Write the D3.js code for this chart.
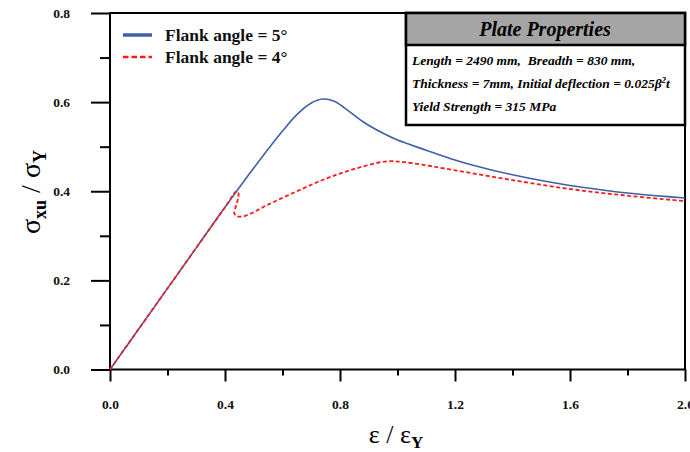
<!DOCTYPE html>
<html>
<head>
<meta charset="utf-8">
<script src="https://cdn.jsdelivr.net/npm/d3@7"></script>
<style>
  body { margin: 0; background: #fff; }
  text { font-family: "Liberation Serif", "DejaVu Serif", serif; }
</style>
</head>
<body>
<div id="container"></div>
<script>
// strain ratio / stress ratio
var blueX = [0, 0.1, 0.2, 0.3, 0.4, 0.5, 0.6, 0.65, 0.7, 0.74, 0.78, 0.82, 0.88, 0.95, 1.0, 1.1, 1.2, 1.3, 1.4, 1.5, 1.6, 1.7, 1.8, 1.9, 2.0];
var blueY = [0, 0.091, 0.182, 0.273, 0.364, 0.452, 0.535, 0.572, 0.598, 0.607, 0.602, 0.585, 0.556, 0.530, 0.515, 0.492, 0.470, 0.452, 0.437, 0.424, 0.413, 0.404, 0.396, 0.390, 0.385];

var redX = [0, 0.2, 0.4, 0.44, 0.447, 0.44, 0.432, 0.44, 0.47, 0.55, 0.65, 0.75, 0.85, 0.963, 1.05, 1.2, 1.4, 1.6, 1.8, 2.0];
var redY = [0, 0.182, 0.364, 0.40, 0.395, 0.37, 0.352, 0.344, 0.345, 0.37, 0.40, 0.428, 0.45, 0.467, 0.463, 0.447, 0.425, 0.405, 0.39, 0.378];

var xTicks = [0, 0.4, 0.8, 1.2, 1.6, 2.0];
var xMinor = [0.2, 0.6, 1.0, 1.4, 1.8];
var yTicks = [0, 0.2, 0.4, 0.6, 0.8];
var yMinor = [0.1, 0.3, 0.5, 0.7];

var legendLabels = ["Flank angle = 5°", "Flank angle = 4°"];
var propLines = [
  "Length = 2490 mm,  Breadth = 830 mm,",
  "Thickness = 7mm, Initial deflection = 0.025β",
  "Yield Strength = 315 MPa"
];

var width = 690, height = 452;
var margin = { left: 110, top: 13, right: 5, bottom: 82 };
var blue = "#3f5fa6", red = "#ff1a1a";

const svg = d3.select("#container")
  .append("svg")
  .attr("width", width)
  .attr("height", height);

var x = d3.scaleLinear().domain([0, 2]).range([margin.left, width - margin.right]);
var y = d3.scaleLinear().domain([0, 0.8]).range([height - margin.bottom - 0.5, margin.top]);

// frame
svg.append("rect")
  .attr("x", x(0)).attr("y", y(0.8))
  .attr("width", x(2) - x(0)).attr("height", y(0) - y(0.8))
  .style("fill", "none").style("stroke", "#000").style("stroke-width", 2);

// x axis
var xAxis = svg.append("g").attr("transform", `translate(0 ${y(0)})`);
xAxis.call(d3.axisBottom(x).tickValues(xTicks).tickSize(12).tickFormat(d3.format(".1f")));
xAxis.append("g").call(d3.axisBottom(x).tickValues(xMinor).tickSize(6).tickFormat(""));
xAxis.selectAll(".domain").remove();
xAxis.selectAll("line").style("stroke-width", 2);
xAxis.selectAll("text")
  .attr("y", 30)
  .style("font-size", "13.5px").style("font-weight", "bold").style("fill", "#111");

// y axis
var yAxis = svg.append("g").attr("transform", `translate(${x(0)} 0)`);
yAxis.call(d3.axisLeft(y).tickValues(yTicks).tickSize(19).tickFormat(d3.format(".1f")));
yAxis.append("g").call(d3.axisLeft(y).tickValues(yMinor).tickSize(10).tickFormat(""));
yAxis.selectAll(".domain").remove();
yAxis.selectAll("line").style("stroke-width", 2);
yAxis.selectAll("text")
  .attr("x", -40)
  .style("font-size", "13.5px").style("font-weight", "bold").style("fill", "#111");

// axis titles
var xt = svg.append("text")
  .attr("x", 396).attr("y", 443)
  .attr("text-anchor", "middle")
  .style("font-size", "26px");
xt.append("tspan").text("ε / ε");
xt.append("tspan").attr("dy", 5).style("font-size", "17px").style("font-weight", "bold").text("Y");

var yt = svg.append("text")
  .attr("transform", "translate(40 192) rotate(-90)")
  .attr("text-anchor", "middle")
  .style("font-size", "28px");
yt.append("tspan").text("σ");
yt.append("tspan").attr("dy", 6).style("font-size", "18px").style("font-weight", "bold").text("xu");
yt.append("tspan").attr("dy", -6).text(" / σ");
yt.append("tspan").attr("dy", 6).style("font-size", "18px").style("font-weight", "bold").text("Y");

// curves
var line = d3.line()
  .x(function (d) { return x(d[0]); })
  .y(function (d) { return y(d[1]); })
  .curve(d3.curveCatmullRom.alpha(0.5));

svg.append("path")
  .datum(d3.zip(blueX, blueY))
  .attr("d", line)
  .style("fill", "none").style("stroke", blue).style("stroke-width", 1.6);

svg.append("path")
  .datum(d3.zip(redX, redY))
  .attr("d", line)
  .style("fill", "none").style("stroke", red).style("stroke-width", 1.8)
  .style("stroke-dasharray", "4,2.5");

// legend
var legend = svg.append("g").attr("transform", "translate(123 35)");
legend.append("line")
  .attr("x1", 0).attr("x2", 29).attr("y1", 0).attr("y2", 0)
  .style("stroke", blue).style("stroke-width", 3.5);
legend.append("line")
  .attr("x1", 0).attr("x2", 29).attr("y1", 22).attr("y2", 22)
  .style("stroke", red).style("stroke-width", 2.5).style("stroke-dasharray", "5.5,3");
legend.selectAll(".lg")
  .data(legendLabels)
  .enter()
  .append("text")
  .attr("class", "lg")
  .attr("x", 42)
  .attr("y", function (d, i) { return i * 22 + 6; })
  .style("font-size", "17.5px").style("font-weight", "bold").style("fill", "#111")
  .text(function (d) { return d; });

// plate properties box
var box = svg.append("g").attr("transform", "translate(406 13)");
box.append("rect")
  .attr("x", 0).attr("y", 0).attr("width", 279).attr("height", 112)
  .style("fill", "#fff").style("stroke", "#000").style("stroke-width", 2.5);
box.append("rect")
  .attr("x", 0).attr("y", 0).attr("width", 279).attr("height", 32)
  .style("fill", "#a5a5a5").style("stroke", "#000").style("stroke-width", 2.5);
box.append("text")
  .attr("x", 139).attr("y", 23)
  .attr("text-anchor", "middle")
  .style("font-size", "20px").style("font-weight", "bold").style("font-style", "italic")
  .text("Plate Properties");
var pl = box.selectAll(".pl")
  .data(propLines)
  .enter()
  .append("text")
  .attr("class", "pl")
  .attr("x", 6)
  .attr("y", function (d, i) { return 52 + i * 23; })
  .style("white-space", "pre")
  .style("font-size", "13.5px").style("font-weight", "bold").style("font-style", "italic")
  .text(function (d) { return d; });
// superscript + t on the deflection line
var l2 = box.selectAll(".pl").filter(function (d, i) { return i == 1; });
l2.append("tspan").attr("dy", -5).style("font-size", "9px").text("2");
l2.append("tspan").attr("dy", 5).text("t");
</script>
</body>
</html>
